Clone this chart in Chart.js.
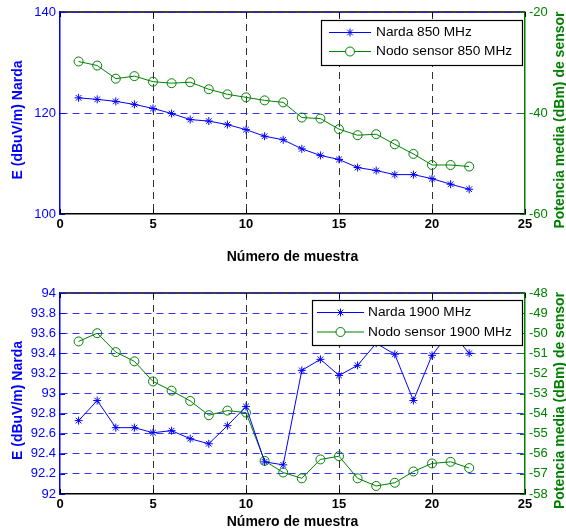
<!DOCTYPE html>
<html><head><meta charset="utf-8">
<script src="https://cdn.jsdelivr.net/npm/chart.js@4.4.1/dist/chart.umd.min.js"></script>
<style>
html,body{margin:0;padding:0;background:#fff;}
#wrap{position:relative;width:566px;height:531px;background:#fff;}
.box{position:absolute;left:0;width:566px;}
canvas{display:block;}
</style></head><body>
<div id="wrap">
<div class="box" style="top:0;height:270px"><canvas id="c1" width="566" height="270"></canvas></div>
<div class="box" style="top:270px;height:261px"><canvas id="c2" width="566" height="261"></canvas></div>
</div>
<script>
// ---------- data ----------
const muestras = [1,2,3,4,5,6,7,8,9,10,11,12,13,14,15,16,17,18,19,20,21,22];
const xTicks = [0,5,10,15,20,25];

const narda850 = [123.0,122.7,122.3,121.7,120.9,119.9,118.7,118.4,117.7,116.7,115.4,114.7,112.9,111.6,110.8,109.2,108.6,107.8,107.8,107.0,105.9,104.9];
const nodo850  = [-29.8,-30.6,-33.2,-32.7,-33.8,-34.1,-33.9,-35.3,-36.3,-36.9,-37.5,-37.9,-40.9,-41.1,-43.2,-44.4,-44.2,-46.2,-48.1,-50.3,-50.3,-50.6];
const eTicks850 = [100,120,140];
const pTicks850 = [-60,-40,-20];
const legend850 = ['Narda 850 MHz','Nodo sensor 850 MHz'];

const narda1900 = [92.73,92.93,92.66,92.66,92.61,92.63,92.55,92.50,92.68,92.87,92.32,92.29,93.23,93.34,93.18,93.28,93.50,93.39,92.93,93.38,93.62,93.40];
const nodo1900  = [-50.41,-50.0,-50.94,-51.40,-52.40,-52.86,-53.37,-54.08,-53.85,-53.95,-56.35,-56.93,-57.22,-56.28,-56.12,-57.22,-57.60,-57.44,-56.88,-56.48,-56.40,-56.71];
const eTicks1900 = [92,92.2,92.4,92.6,92.8,93,93.2,93.4,93.6,93.8,94];
const pTicks1900 = [-58,-57,-56,-55,-54,-53,-52,-51,-50,-49,-48];
const legend1900 = ['Narda 1900 MHz','Nodo sensor 1900 MHz'];

const xTitle = 'Número de muestra';
const yTitleLeft = 'E (dBuV/m) Narda';
const yTitleRight = 'Potencia media (dBm) de sensor';

// ---------- styles ----------
const FONT = "'Liberation Sans', Arial, Helvetica, sans-serif";
Chart.defaults.font.family = FONT;
const BLUE = '#0000ff';
const GREEN = '#008000';
const GRIDBLUE = 'rgba(30,30,255,0.9)';
const GRIDBLACK = 'rgba(0,0,0,0.8)';

function fmt(v){ return String(Number(v.toFixed(2))); }

function makeChart(id, opt){
  const canvas = document.getElementById(id);
  const H = canvas.height;
  const eMin = opt.eTicks[0], eMax = opt.eTicks[opt.eTicks.length-1];
  const pMin = opt.pTicks[0], pMax = opt.pTicks[opt.pTicks.length-1];

  const decor = {
    id: 'decor_'+id,
    beforeDraw(chart){
      const a = chart.chartArea, ctx = chart.ctx;
      ctx.save();
      ctx.strokeStyle = '#000'; ctx.lineWidth = 1.5;
      ctx.beginPath(); ctx.moveTo(a.left, a.top); ctx.lineTo(a.right, a.top); ctx.stroke();
      ctx.restore();
    },
    afterDatasetsDraw(chart){
      const a = chart.chartArea, ctx = chart.ctx;
      const xs = chart.scales.x, yl = chart.scales.y, yr = chart.scales.y1;
      const L = 5;
      ctx.save();
      ctx.lineWidth = 1;
      ctx.strokeStyle = '#000';
      xs.ticks.forEach(t => {
        const px = Math.round(xs.getPixelForValue(t.value)) + 0.5;
        ctx.beginPath();
        ctx.moveTo(px, a.bottom); ctx.lineTo(px, a.bottom - L);
        ctx.moveTo(px, a.top); ctx.lineTo(px, a.top + L);
        ctx.stroke();
      });
      ctx.strokeStyle = BLUE;
      yl.ticks.forEach(t => {
        const py = Math.round(yl.getPixelForValue(t.value)) + 0.5;
        ctx.beginPath(); ctx.moveTo(a.left, py); ctx.lineTo(a.left + L, py); ctx.stroke();
      });
      ctx.strokeStyle = GREEN;
      yr.ticks.forEach(t => {
        const py = Math.round(yr.getPixelForValue(t.value)) + 0.5;
        ctx.beginPath(); ctx.moveTo(a.right, py); ctx.lineTo(a.right - L, py); ctx.stroke();
      });
      ctx.restore();
    },
    afterDraw(chart){
      const a = chart.chartArea, ctx = chart.ctx;
      // legend box
      const lg = opt.legendBox;
      const bx = a.right - lg.right - lg.w, by = a.top + lg.top;
      ctx.save();
      ctx.fillStyle = '#fff';
      ctx.fillRect(bx, by, lg.w, lg.h);
      ctx.strokeStyle = '#000'; ctx.lineWidth = 1.2;
      ctx.strokeRect(bx + 0.5, by + 0.5, lg.w, lg.h);
      const rows = [
        {label: opt.legend[0], color: BLUE, style: 'star', r: 4},
        {label: opt.legend[1], color: GREEN, style: 'circle', r: 4.5}
      ];
      rows.forEach((row, i) => {
        const cy = by + lg.rows[i];
        const x1 = bx + lg.lineX1, x2 = bx + lg.lineX2;
        ctx.strokeStyle = row.color; ctx.lineWidth = 1;
        ctx.beginPath(); ctx.moveTo(x1, cy); ctx.lineTo(x2, cy); ctx.stroke();
        ctx.save();
        ctx.strokeStyle = row.color;
        ctx.fillStyle = row.style === 'circle' ? '#fff' : row.color;
        ctx.lineWidth = 1;
        Chart.helpers.drawPoint(ctx, {pointStyle: row.style, radius: row.r, borderWidth: 1, rotation: 0}, (x1 + x2) / 2, cy);
        ctx.restore();
        ctx.fillStyle = '#000';
        ctx.font = '13.7px ' + FONT;
        ctx.textBaseline = 'middle'; ctx.textAlign = 'left';
        ctx.fillText(row.label, bx + lg.textX, cy);
      });
      // y titles
      const cy = (a.top + a.bottom) / 2 + 7;
      ctx.font = 'bold 14px ' + FONT;
      ctx.textAlign = 'center'; ctx.textBaseline = 'middle';
      ctx.fillStyle = BLUE;
      ctx.save(); ctx.translate(18.5, cy); ctx.rotate(-Math.PI/2); ctx.fillText(yTitleLeft, 0, 0); ctx.restore();
      ctx.fillStyle = GREEN;
      ctx.save(); ctx.translate(560, cy); ctx.rotate(-Math.PI/2); ctx.fillText(yTitleRight, 0, 0); ctx.restore();
      ctx.restore();
    }
  };

  return new Chart(canvas, {
    type: 'line',
    data: {
      datasets: [
        {
          label: opt.legend[0],
          data: muestras.map((m, i) => ({x: m, y: opt.narda[i]})),
          yAxisID: 'y',
          borderColor: BLUE, backgroundColor: BLUE, borderWidth: 1,
          pointStyle: 'star', pointRadius: 4, pointBorderWidth: 1,
          pointBorderColor: BLUE, pointHoverRadius: 4, tension: 0
        },
        {
          label: opt.legend[1],
          data: muestras.map((m, i) => ({x: m, y: opt.nodo[i]})),
          yAxisID: 'y1',
          borderColor: GREEN, backgroundColor: 'rgba(0,0,0,0)', borderWidth: 1,
          pointStyle: 'circle', pointRadius: 4.5, pointBorderWidth: 1,
          pointBorderColor: GREEN, pointBackgroundColor: 'rgba(0,0,0,0)', pointHoverRadius: 4.5, tension: 0
        }
      ]
    },
    options: {
      responsive: false,
      animation: false,
      devicePixelRatio: 1,
      layout: {padding: {top: opt.plotTop, left: 0, right: 0, bottom: 0}},
      plugins: {legend: {display: false}, tooltip: {enabled: false}},
      scales: {
        x: {
          type: 'linear', min: 0, max: 25,
          afterBuildTicks: s => { s.ticks = xTicks.map(v => ({value: v})); },
          afterFit: s => { s.height = H - opt.plotBottom; },
          ticks: {color: '#000', font: {size: 13, weight: 'bold'}, padding: 3, maxRotation: 0, autoSkip: false,
                  callback: v => String(v)},
          grid: {color: c => (c.tick && (c.tick.value === 0 || c.tick.value === 25)) ? 'rgba(0,0,0,0)' : GRIDBLACK,
                 lineWidth: 1, drawTicks: false},
          border: {display: true, color: '#000', width: 1.5, dash: [7,5]},
          title: {display: true, text: xTitle, color: '#000', font: {size: 14, weight: 'bold', lineHeight: 1.2},
                  padding: {top: 0, bottom: opt.titlePad}}
        },
        y: {
          type: 'linear', position: 'left', min: eMin, max: eMax,
          afterBuildTicks: s => { s.ticks = opt.eTicks.map(v => ({value: v})); },
          afterFit: s => { s.width = 60; },
          ticks: {color: BLUE, font: {size: 13}, padding: 4, callback: v => fmt(v)},
          grid: {color: c => (c.tick && c.tick.value === eMin) ? 'rgba(0,0,0,0)' : GRIDBLUE, lineWidth: 1, drawTicks: false},
          border: {display: true, color: BLUE, width: 1.5, dash: [7,5]}
        },
        y1: {
          type: 'linear', position: 'right', min: pMin, max: pMax,
          afterBuildTicks: s => { s.ticks = opt.pTicks.map(v => ({value: v})); },
          afterFit: s => { s.width = 41; },
          ticks: {color: GREEN, font: {size: 13}, padding: 4, callback: v => fmt(v)},
          grid: {drawOnChartArea: false, drawTicks: false},
          border: {display: true, color: GREEN, width: 1.5}
        }
      }
    },
    plugins: [decor]
  });
}

makeChart('c1', {
  narda: narda850, nodo: nodo850, eTicks: eTicks850, pTicks: pTicks850, legend: legend850,
  plotTop: 12, plotBottom: 214, titlePad: 4,
  legendBox: {right: 3, top: 8, w: 201, h: 45, rows: [12.5, 31.5], lineX1: 8, lineX2: 50, textX: 55}
});
makeChart('c2', {
  narda: narda1900, nodo: nodo1900, eTicks: eTicks1900, pTicks: pTicks1900, legend: legend1900,
  plotTop: 23, plotBottom: 224, titlePad: 0,
  legendBox: {right: 3, top: 7, w: 210, h: 45, rows: [12.5, 32], lineX1: 5, lineX2: 52, textX: 56}
});
</script>
</body></html>
